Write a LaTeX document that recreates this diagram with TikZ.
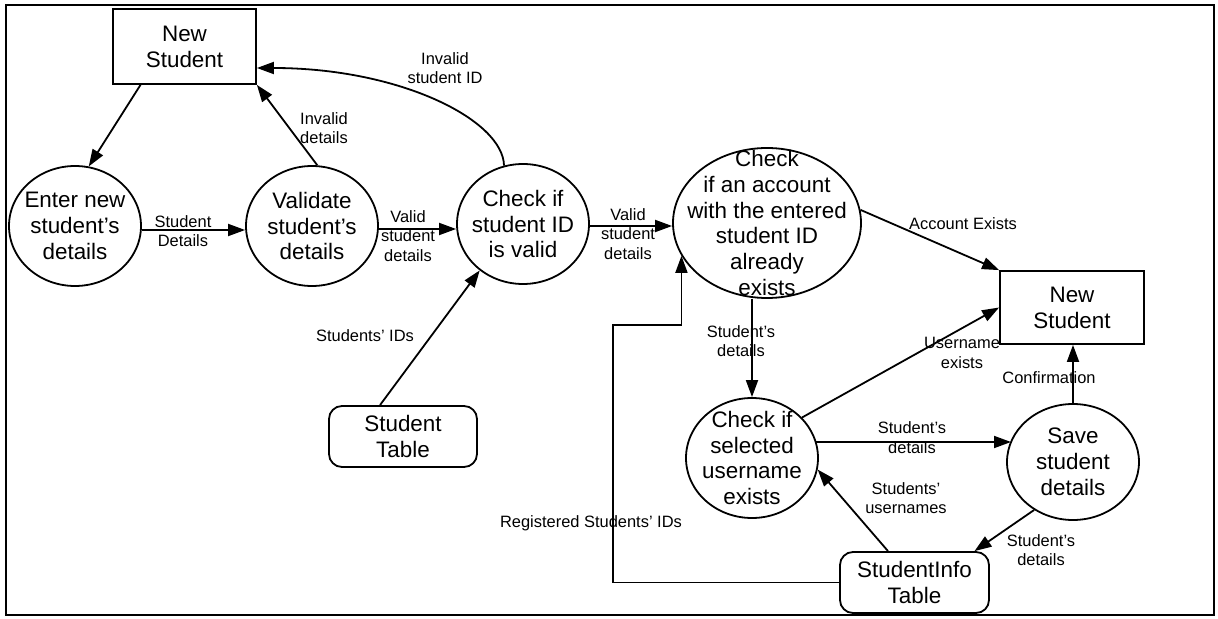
\documentclass[tikz,border=0pt]{standalone}
\usepackage{fontspec}
\setmainfont{Liberation Sans}
\usetikzlibrary{shapes.geometric,arrows.meta,calc}
\begin{document}
\begin{tikzpicture}[x=1bp,y=-1bp,
  line width=1.8bp,
  >={Triangle[length=17bp,width=12bp]},
  big/.style={font=\fontsize{22.5}{26}\selectfont, align=center},
  lbl/.style={font=\fontsize{16.5}{19.5}\selectfont, align=center, inner sep=0pt},
  ent/.style={draw, rectangle, inner sep=0pt, big},
  store/.style={draw, rectangle, rounded corners=13bp, inner sep=0pt, big},
  proc/.style={draw, ellipse, inner sep=0pt},
  flow/.style={->}
]
\useasboundingbox (0,0) rectangle (1218,619);
\draw[line width=2bp] (6,5) rectangle (1214,615);

% external entities
\node[ent, minimum width=143bp, minimum height=75bp] (ns1) at (184.5,46.5) {New\\Student};
\node[ent, minimum width=144bp, minimum height=73bp] (ns2) at (1072,307.5) {New\\Student};

% data stores
\node[store, minimum width=148bp, minimum height=61bp] (st) at (403,436.5) {Student\\Table};
\node[store, minimum width=149bp, minimum height=61bp] (si) at (914.5,582.5) {StudentInfo\\Table};

% processes
\node[proc, minimum width=132bp, minimum height=120bp,
  label={[big]center:{Enter new\\student's\\details}}] (p1) at (75,226) {};
\node[proc, minimum width=132bp, minimum height=120bp,
  label={[big]center:{Validate\\student's\\details}}] (p2) at (312,226) {};
\node[proc, minimum width=132bp, minimum height=120bp,
  label={[big]center:{Check if\\student ID\\is valid}}] (p3) at (523,224) {};
\node[proc, minimum width=188bp, minimum height=150bp,
  label={[big]center:{Check\\if an account\\with the entered\\student ID\\already\\exists}}] (p4) at (767,223) {};
\node[proc, minimum width=132bp, minimum height=120bp,
  label={[big]center:{Check if\\selected\\username\\exists}}] (p5) at (752,458) {};
\node[proc, minimum width=132bp, minimum height=116bp,
  label={[big]center:{Save\\student\\details}}] (p6) at (1073,462) {};

\coordinate (rc) at (613,325);

% flows
\draw[flow] ($(ns1.south)+(-44,0)$) -- (p1.77);
\draw[flow] ($(p1.east)+(0,4)$) -- ($(p2.west)+(0,4)$);
\draw[flow] (p2.85) -- (ns1.south east);
\draw[flow] ($(p2.east)+(0,3)$) -- ($(p3.west)+(0,5)$);
\draw[flow] (p3.108) .. controls (503,120) and (400,68) .. ($(ns1.east)+(0,21.5)$);
\draw[flow] ($(p3.east)+(0,2)$) -- ($(p4.west)+(0,3)$);
\draw[flow] ($(st.north)+(-23,0)$) -- (p3.227);
\draw[flow] (p4.8) -- (ns2.north west);
\draw[flow] (p5.north |- p4.south) -- (p5.north);
\draw[flow] (p5.39) -- (ns2.west);
\draw[flow] ($(p5.center)+(64,-16)$) -- ($(p6.center)+(-62,-20)$);
\draw[flow] (p6.north) -- (p6.north |- ns2.south);
\draw[flow] (p6.231) -- ($(si.north)+(60,0)$);
\draw[flow] ($(si.north)+(-26.5,0)$) -- (p5.-10);
\draw[flow] (si.west) -| (rc) -| (p4.201);

% flow labels
\node[lbl] (l1) at (183,231) {Student\\Details};
\node[lbl] (l2) at (324,128) {Invalid\\details};
\node[lbl] (l3) at (408,236) {Valid\\student\\details};
\node[lbl] (l4) at (445,68) {Invalid\\student ID};
\node[lbl] (l5) at (628,234) {Valid\\student\\details};
\node[lbl] (l6) at (365,336) {Students' IDs};
\node[lbl] (l7) at (963,224) {Account Exists};
\node[lbl] (l8) at (741,341) {Student's\\details};
\node[lbl] (l9) at (962,353) {Username\\exists};
\node[lbl] (l10) at (912,437.5) {Student's\\details};
\node[lbl] (l11) at (1049,378) {Confirmation};
\node[lbl] (l12) at (1041,550) {Student's\\details};
\node[lbl] (l13) at (906,498) {Students'\\usernames};
\node[lbl] (l14) at (591,523) {Registered Students' IDs};
\end{tikzpicture}
\end{document}
